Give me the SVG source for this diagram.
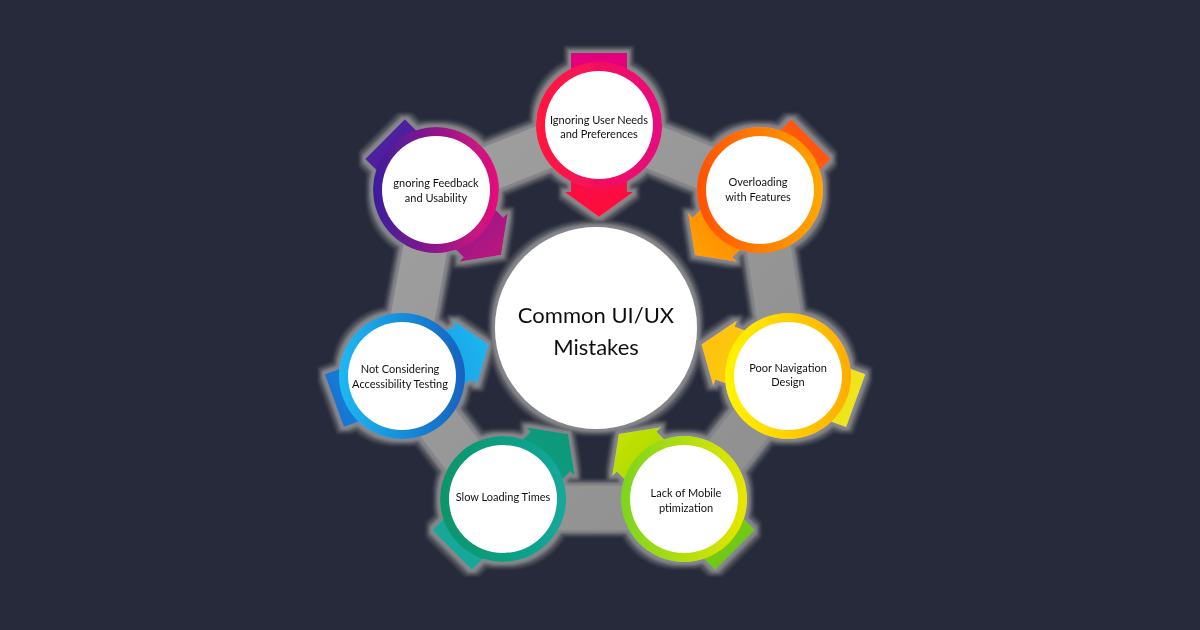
<svg xmlns="http://www.w3.org/2000/svg" width="1200" height="630" viewBox="0 0 1200 630">
  <style>
    .lbl { font-family: Lato, "Liberation Sans", sans-serif; font-size: 11px; fill: #111; text-anchor: middle; }
    .title { font-family: Lato, "Liberation Sans", sans-serif; font-size: 22px; fill: #111; text-anchor: middle; }
    .inner { fill: #ffffff; }
    .band { fill: none; stroke: url(#bandGrad); stroke-width: 44; stroke-linejoin: round; }
  </style>
  <defs>
    <filter id="halo" filterUnits="userSpaceOnUse" x="0" y="0" width="1200" height="630">
      <feMorphology in="SourceAlpha" operator="dilate" radius="7" result="d1"/>
      <feGaussianBlur in="d1" stdDeviation="0.8" result="b1"/>
      <feFlood flood-color="#40434f"/>
      <feComposite in2="b1" operator="in" result="h1"/>
      <feMorphology in="SourceAlpha" operator="dilate" radius="5" result="d3"/>
      <feGaussianBlur in="d3" stdDeviation="0.8" result="b3"/>
      <feFlood flood-color="#5a5c64"/>
      <feComposite in2="b3" operator="in" result="h3"/>
      <feMorphology in="SourceAlpha" operator="dilate" radius="3" result="d2"/>
      <feGaussianBlur in="d2" stdDeviation="0.8" result="b2"/>
      <feFlood flood-color="#85868b"/>
      <feComposite in2="b2" operator="in" result="h2"/>
      <feMerge>
        <feMergeNode in="h1"/>
        <feMergeNode in="h3"/>
        <feMergeNode in="h2"/>
        <feMergeNode in="SourceGraphic"/>
      </feMerge>
    </filter>
    <linearGradient id="bandGrad" gradientUnits="userSpaceOnUse" x1="400" y1="120" x2="800" y2="520">
      <stop offset="0" stop-color="#a0a0a0"/>
      <stop offset="1" stop-color="#8e8e8e"/>
    </linearGradient>
    <path id="arrow" d="M -28 -72 L 28 -72 L 28 67 L 34.5 67 L 0 92 L -34.5 67 L -28 67 Z"/>
    <linearGradient id="r1" x1="0" y1="0" x2="1" y2="0"><stop offset="0" stop-color="#ff1a3d"/><stop offset="1" stop-color="#e5077f"/></linearGradient>
    <linearGradient id="r2" x1="0" y1="0" x2="1" y2="0"><stop offset="0" stop-color="#ff5200"/><stop offset="1" stop-color="#ffa800"/></linearGradient>
    <linearGradient id="r3" x1="0" y1="0" x2="1" y2="0"><stop offset="0" stop-color="#fff500"/><stop offset="1" stop-color="#ffab00"/></linearGradient>
    <linearGradient id="r4" x1="0" y1="0" x2="1" y2="0"><stop offset="0" stop-color="#7bd51f"/><stop offset="1" stop-color="#e8e600"/></linearGradient>
    <linearGradient id="r5" x1="0" y1="0" x2="1" y2="0"><stop offset="0" stop-color="#07946a"/><stop offset="1" stop-color="#14a89c"/></linearGradient>
    <linearGradient id="r6" x1="0" y1="0" x2="1" y2="0"><stop offset="0" stop-color="#1cb9f2"/><stop offset="1" stop-color="#1462bf"/></linearGradient>
    <linearGradient id="r7" x1="0" y1="0" x2="1" y2="0"><stop offset="0" stop-color="#3a1e9c"/><stop offset="1" stop-color="#e6107a"/></linearGradient>
    <linearGradient id="a1" gradientUnits="userSpaceOnUse" x1="0" y1="-72" x2="0" y2="92"><stop offset="0" stop-color="#e3007f"/><stop offset="1" stop-color="#ff0d38"/></linearGradient>
    <linearGradient id="a2" gradientUnits="userSpaceOnUse" x1="0" y1="-72" x2="0" y2="92"><stop offset="0" stop-color="#ff560a"/><stop offset="1" stop-color="#ffa000"/></linearGradient>
    <linearGradient id="a3" gradientUnits="userSpaceOnUse" x1="0" y1="-72" x2="0" y2="92"><stop offset="0" stop-color="#eee61c"/><stop offset="1" stop-color="#ffc107"/></linearGradient>
    <linearGradient id="a4" gradientUnits="userSpaceOnUse" x1="0" y1="-72" x2="0" y2="92"><stop offset="0" stop-color="#6ec813"/><stop offset="1" stop-color="#c6e200"/></linearGradient>
    <linearGradient id="a5" gradientUnits="userSpaceOnUse" x1="0" y1="-72" x2="0" y2="92"><stop offset="0" stop-color="#17a89a"/><stop offset="1" stop-color="#0f9878"/></linearGradient>
    <linearGradient id="a6" gradientUnits="userSpaceOnUse" x1="0" y1="-72" x2="0" y2="92"><stop offset="0" stop-color="#1976d2"/><stop offset="1" stop-color="#1ab6f0"/></linearGradient>
    <linearGradient id="a7" gradientUnits="userSpaceOnUse" x1="0" y1="-72" x2="0" y2="92"><stop offset="0" stop-color="#4a20a0"/><stop offset="1" stop-color="#bb137e"/></linearGradient>
  </defs>

  <rect x="0" y="0" width="1200" height="630" fill="#262a3b"/>

  <g filter="url(#halo)">
    <g id="connectors">
      <path class="band" d="M 599 125 L 760 190 L 788 376 L 684 508 L 503 508 L 402 376 L 436 190 Z"/>
    </g>

    <g id="center">
      <circle cx="596" cy="328" r="101" fill="#ffffff"/>
      <text class="title" x="596" y="323">Common UI/UX</text>
      <text class="title" x="596" y="355">Mistakes</text>
    </g>

    <g id="node-user-needs" transform="translate(599,125)">
      <use href="#arrow" fill="url(#a1)" transform="rotate(0)"/>
      <circle r="63" fill="url(#r1)"/>
      <circle r="54" class="inner"/>
      <text class="lbl" x="0" y="-1">Ignoring User Needs</text>
      <text class="lbl" x="0" y="13">and Preferences</text>
    </g>

    <g id="node-overloading" transform="translate(760,190)">
      <use href="#arrow" fill="url(#a2)" transform="rotate(45)"/>
      <circle r="63" fill="url(#r2)"/>
      <circle r="54" class="inner"/>
      <text class="lbl" x="-2" y="-4">Overloading</text>
      <text class="lbl" x="-2" y="11">with Features</text>
    </g>

    <g id="node-navigation" transform="translate(788,376)">
      <use href="#arrow" fill="url(#a3)" transform="rotate(110)"/>
      <circle r="63" fill="url(#r3)"/>
      <circle r="54" class="inner"/>
      <text class="lbl" x="0" y="-4">Poor Navigation</text>
      <text class="lbl" x="0" y="10">Design</text>
    </g>

    <g id="node-mobile" transform="translate(684,499)">
      <use href="#arrow" fill="url(#a4)" transform="rotate(135)"/>
      <circle r="63" fill="url(#r4)"/>
      <circle r="54" class="inner"/>
      <text class="lbl" x="2" y="-2">Lack of Mobile</text>
      <text class="lbl" x="2" y="13">ptimization</text>
    </g>

    <g id="node-loading" transform="translate(503,499)">
      <use href="#arrow" fill="url(#a5)" transform="rotate(-135)"/>
      <circle r="63" fill="url(#r5)"/>
      <circle r="54" class="inner"/>
      <text class="lbl" x="0" y="2">Slow Loading Times</text>
    </g>

    <g id="node-accessibility" transform="translate(402,376)">
      <use href="#arrow" fill="url(#a6)" transform="rotate(-110)"/>
      <circle r="63" fill="url(#r6)"/>
      <circle r="54" class="inner"/>
      <text class="lbl" x="-2" y="-3">Not Considering</text>
      <text class="lbl" x="-2" y="12">Accessibility Testing</text>
    </g>

    <g id="node-feedback" transform="translate(436,190)">
      <use href="#arrow" fill="url(#a7)" transform="rotate(-45)"/>
      <circle r="63" fill="url(#r7)"/>
      <circle r="54" class="inner"/>
      <text class="lbl" x="0" y="-3">gnoring Feedback</text>
      <text class="lbl" x="0" y="12">and Usability</text>
    </g>
  </g>
</svg>
